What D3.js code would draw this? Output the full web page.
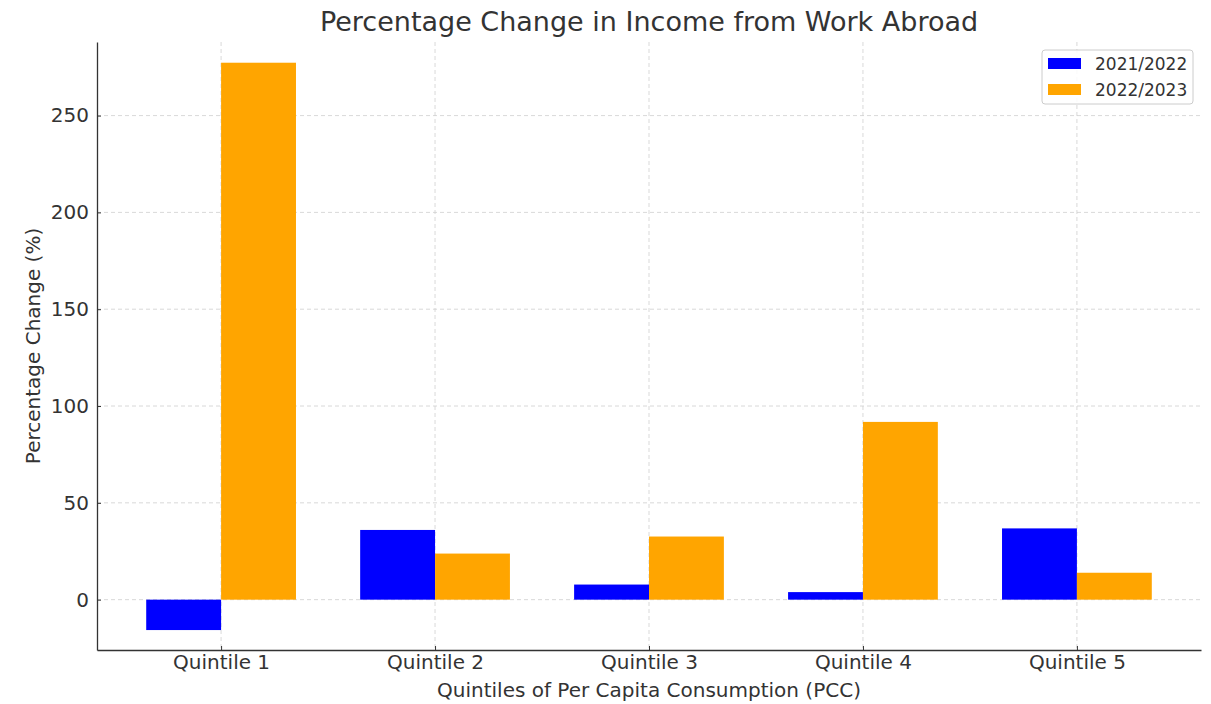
<!DOCTYPE html>
<html>
<head>
<meta charset="utf-8">
<script src="https://cdn.jsdelivr.net/npm/d3@7"></script>
<style>
  body { margin: 0; background: #fff; }
  svg text { font-family: "DejaVu Sans", sans-serif; fill: #333; }
</style>
</head>
<body>
<div id="chart"></div>
<script>
const categories = ["Quintile 1", "Quintile 2", "Quintile 3", "Quintile 4", "Quintile 5"];
const series2122 = [-15.7, 36.0, 7.8, 3.9, 36.8];
const series2223 = [277.3, 23.8, 32.6, 91.8, 13.9];
const seriesNames = ["2021/2022", "2022/2023"];
const yTicks = [0, 50, 100, 150, 200, 250];

const W = 1211, H = 704;
const margin = { top: 42, right: 10, bottom: 54, left: 97 };
const width = W - margin.left - margin.right;
const height = H - margin.top - margin.bottom;
const barW = 0.35;
const colors = ["#0000ff", "#ffa500"];

const svg = d3.select("#chart").append("svg")
    .attr("width", W)
    .attr("height", H);

const g = svg.append("g")
    .attr("transform", `translate(${margin.left},${margin.top})`);

const x = d3.scaleLinear()
    .domain([-0.58, categories.length - 1 + 0.58])
    .range([0, width]);

const y = d3.scaleLinear()
    .domain([-26, 288])
    .range([height, 0]);

// grid
g.append("g").selectAll("line").data(yTicks).join("line")
    .attr("x1", 0).attr("x2", width)
    .attr("y1", d => y(d)).attr("y2", d => y(d))
    .attr("stroke", "#cfcfcf").attr("stroke-dasharray", "4,3").attr("stroke-width", 0.8);
g.append("g").selectAll("line").data(categories).join("line")
    .attr("x1", (d, i) => x(i)).attr("x2", (d, i) => x(i))
    .attr("y1", 0).attr("y2", height)
    .attr("stroke", "#cfcfcf").attr("stroke-dasharray", "4,3").attr("stroke-width", 0.8);

// bars
[series2122, series2223].forEach((vals, s) => {
    g.append("g").selectAll("rect").data(vals).join("rect")
        .attr("x", (d, i) => x(i + (s === 0 ? -barW : 0)))
        .attr("width", x(barW) - x(0))
        .attr("y", d => y(Math.max(0, d)))
        .attr("height", d => Math.abs(y(d) - y(0)))
        .attr("fill", colors[s]);
});

// axes (ticks point inward)
const xAxis = g.append("g")
    .attr("transform", `translate(0,${height})`)
    .call(d3.axisBottom(x).tickValues(d3.range(categories.length))
        .tickFormat(i => categories[i]).tickSize(-4).tickPadding(5).tickSizeOuter(0));
const yAxis = g.append("g")
    .call(d3.axisLeft(y).tickValues(yTicks).tickSize(-4).tickPadding(8).tickSizeOuter(0));

[xAxis, yAxis].forEach(a => {
    a.select(".domain").attr("stroke", "#333").attr("stroke-width", 1.3);
    a.selectAll(".tick line").attr("stroke", "#333");
    a.selectAll(".tick text").style("font-size", "20px").attr("fill", "#333");
});

// title and labels
svg.append("text")
    .attr("x", margin.left + width / 2).attr("y", 31)
    .attr("text-anchor", "middle")
    .style("font-size", "27px")
    .text("Percentage Change in Income from Work Abroad");

svg.append("text")
    .attr("x", margin.left + width / 2).attr("y", 697)
    .attr("text-anchor", "middle")
    .style("font-size", "20px")
    .text("Quintiles of Per Capita Consumption (PCC)");

svg.append("text")
    .attr("transform", `translate(40,${margin.top + height / 2}) rotate(-90)`)
    .attr("text-anchor", "middle")
    .style("font-size", "20px")
    .text("Percentage Change (%)");

// legend
const legend = svg.append("g").attr("transform", "translate(1042,50)");
legend.append("rect")
    .attr("width", 151).attr("height", 54).attr("rx", 3)
    .attr("fill", "#fff").attr("fill-opacity", 0.85)
    .attr("stroke", "#ccc");
seriesNames.forEach((name, i) => {
    legend.append("rect")
        .attr("x", 6).attr("y", 8 + i * 26)
        .attr("width", 33).attr("height", 11)
        .attr("fill", colors[i]);
    legend.append("text")
        .attr("x", 53).attr("y", 20 + i * 26)
        .style("font-size", "17px")
        .text(name);
});
</script>
</body>
</html>
